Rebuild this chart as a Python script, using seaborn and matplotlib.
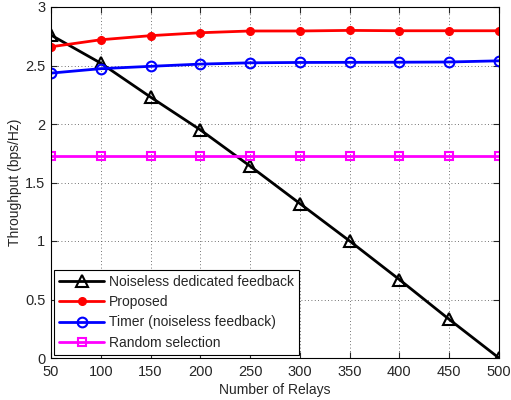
import matplotlib
matplotlib.use("Agg")
import matplotlib.pyplot as plt
import seaborn as sns
import pandas as pd

relays = [50, 100, 150, 200, 250, 300, 350, 400, 450, 500]
noiseless_dedicated = [2.76, 2.52, 2.23, 1.95, 1.64, 1.32, 1.0, 0.67, 0.33, 0.0]
proposed = [2.66, 2.72, 2.755, 2.78, 2.795, 2.795, 2.80, 2.797, 2.797, 2.797]
timer = [2.435, 2.473, 2.493, 2.512, 2.523, 2.526, 2.527, 2.528, 2.530, 2.540]
random_sel = [1.727] * 10

series_names = ["Noiseless dedicated feedback", "Proposed",
                "Timer (noiseless feedback)", "Random selection"]
x_ticks = [50, 100, 150, 200, 250, 300, 350, 400, 450, 500]
y_ticks = [0, 0.5, 1, 1.5, 2, 2.5, 3]

sns.set_style("ticks")
plt.rcParams['font.family'] = ['Liberation Sans', 'DejaVu Sans']

fig = plt.figure(figsize=(5.11, 4.0), dpi=100)
ax = fig.add_axes([0.0998, 0.105, 0.8767, 0.8775])

styles = [
    dict(color="black", marker="^", markersize=8.5, markerfacecolor="none", markeredgewidth=1.5),
    dict(color="red", marker="o", markersize=5.5, markerfacecolor="red", markeredgewidth=1),
    dict(color="blue", marker="o", markersize=7, markerfacecolor="none", markeredgewidth=1.5),
    dict(color="magenta", marker="s", markersize=6, markerfacecolor="none", markeredgewidth=1.5),
]
for ys, name, st in zip([noiseless_dedicated, proposed, timer, random_sel], series_names, styles):
    df = pd.DataFrame({"x": relays, "y": ys})
    sns.lineplot(data=df, x="x", y="y", ax=ax, label=name, linewidth=2,
                 markeredgecolor=st["color"], **st)

ax.set_xlim(50, 500)
ax.set_ylim(0, 3)
ax.set_xticks(x_ticks)
ax.set_yticks(y_ticks)
ax.set_yticklabels(["0", "0.5", "1", "1.5", "2", "2.5", "3"])
ax.set_xlabel("Number of Relays", fontsize=10, labelpad=3)
ax.set_ylabel("Throughput (bps/Hz)", fontsize=10, labelpad=2)
ax.tick_params(labelsize=10.5, direction="in", top=True, right=True, length=4)
ax.tick_params(axis="x", pad=5)
ax.tick_params(axis="y", pad=4)
ax.grid(True, linestyle=(0, (1, 3)), color="#444444", linewidth=0.6)
for sp in ax.spines.values():
    sp.set_color("black")
    sp.set_linewidth(0.8)

leg = ax.legend(loc="lower left", fontsize=10, frameon=True, fancybox=False,
                edgecolor="black", handlelength=3.2, borderaxespad=0.25,
                labelspacing=0.45, handletextpad=0.4, borderpad=0.35)
leg.get_frame().set_linewidth(0.8)
leg.get_frame().set_alpha(1)

fig.savefig("out.png", dpi=100)
